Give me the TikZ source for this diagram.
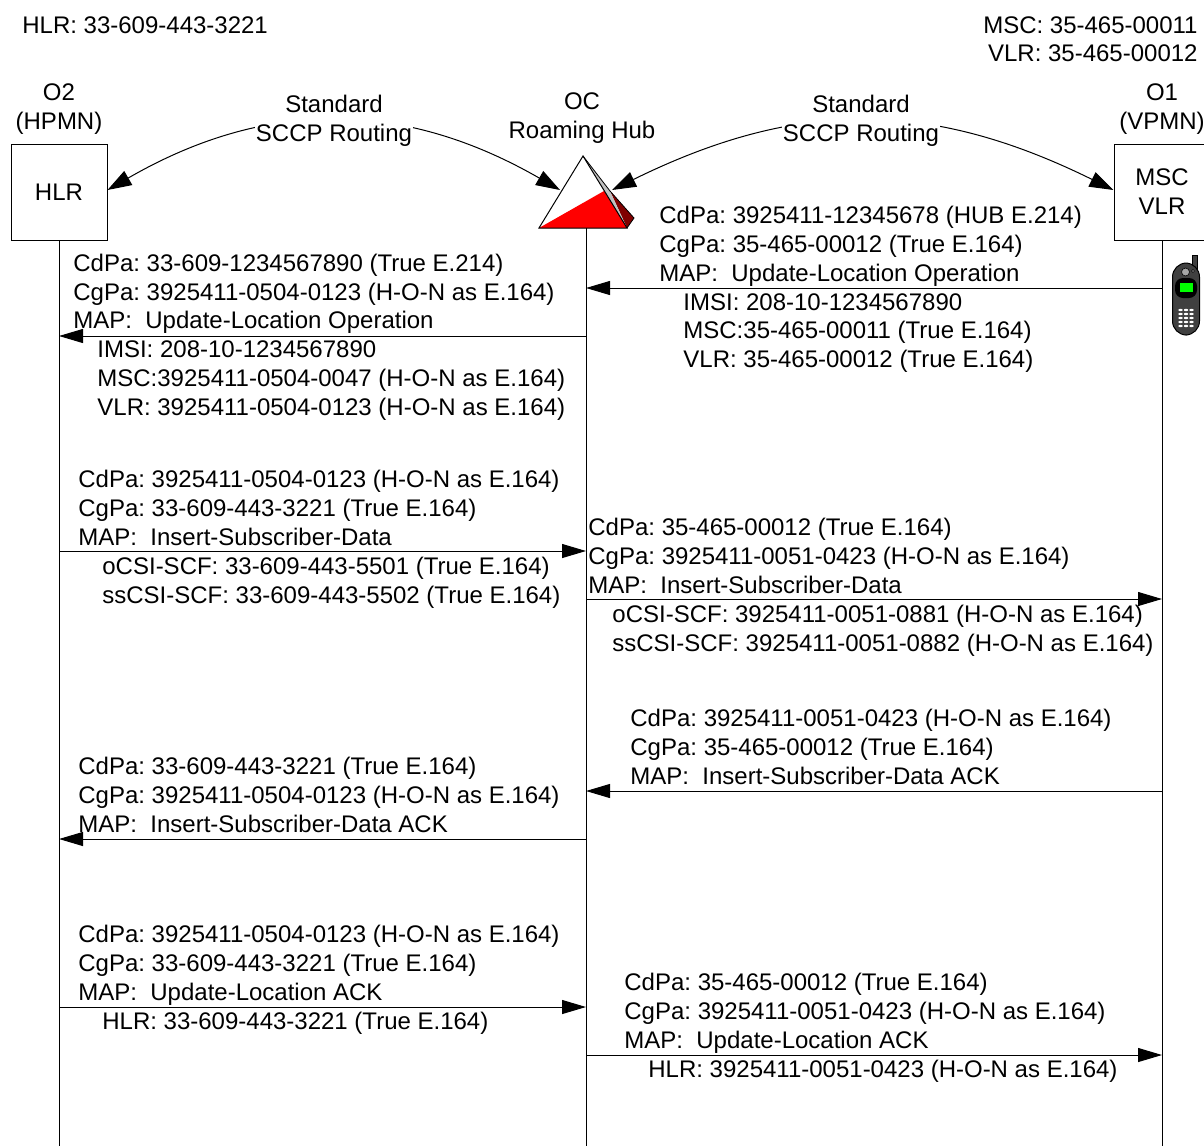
\documentclass[tikz,border=0pt]{standalone}
\usepackage{fontspec}
\setmainfont{Liberation Sans}
\usetikzlibrary{arrows.meta}

\definecolor{hubred}{HTML}{FF0000}
\definecolor{hubdark}{HTML}{800000}
\definecolor{hubgrey}{HTML}{C0C0C0}
\definecolor{phonebody}{HTML}{404040}
\definecolor{phonescreen}{HTML}{00FF00}

\frenchspacing
\begin{document}
\begin{tikzpicture}[
    x=0.5pt, y=-0.5pt,
    every node/.style={font=\fontsize{12}{14.4}\selectfont},
    entity/.style={draw=black, line width=0.5pt, minimum size=48pt, inner sep=0pt,
        align=center, fill=white},
    heading/.style={align=center, inner sep=0pt},
    routing/.style={align=center, inner sep=0.5pt, fill=white},
    msgtext/.style={anchor=north west, align=left, inner sep=0pt},
    lifeline/.style={draw=black, line width=0.5pt},
    msgline/.style={draw=black, line width=0.5pt, -{Triangle[length=12pt,width=7pt]}},
    arc/.style={draw=black, line width=0.5pt,
        {Triangle[length=12pt,width=8pt]}-{Triangle[length=12pt,width=8pt]}},
]
\useasboundingbox (0,0) rectangle (1204,1146);

% === Column positions ===
\def\colA{59}      % HPMN
\def\colB{586}     % Hub
\def\colC{1162}    % VPMN
\def\ind{\hspace*{12pt}}

% === Elements ===
\node[entity] (hlr) at (\colA,192) {HLR};
\node[entity] (msc) at (\colC,192) {MSC\\VLR};
\coordinate (hubApex) at (583,156);
\coordinate (hub) at (\colB,228);
\coordinate (hubWest) at (560,190);
\coordinate (hubEast) at (612,190);

% === Lifelines ===
\coordinate (bottom) at (0,1146);
\draw[lifeline] (hlr.south) -- (hlr.south |- bottom);
\draw[lifeline] (hub) -- (hub |- bottom);
\draw[lifeline] (msc.south) -- (msc.south |- bottom);

% === Hub triangle ===
\fill[hubdark] (610,191) -- (634,218) -- (627,228) -- cycle;
\fill[hubgrey] (hubApex) -- (610,191) -- (627,228) -- cycle;
\fill[hubred] (539,228) -- (604,191) -- (627,228) -- cycle;
\draw[line width=0.5pt] (539,228) -- (hubApex) -- (627,228) -- cycle;
\draw[line width=0.4pt] (hubApex) -- (610,191) -- (634,218) -- (627,228);

% === Routing arcs ===
\draw[arc] (hlr.east |- hubWest) .. controls (265,99) and (402,99) .. (hubWest);
\draw[arc] (hubEast) .. controls (797,99) and (929,99) .. (msc.west |- hubEast);
\node[routing] (sccpA) at (334,120.5) {Standard\\SCCP Routing};
\node[routing] (sccpB) at (861,120.5) {Standard\\SCCP Routing};

% === Headers ===
\node[heading] (ohome) at (\colA,109.5) {O2\\(HPMN)};
\node[heading] (ohub) at (582,118) {OC\\Roaming Hub};
\node[heading] (ovisit) at (\colC,109.5) {O1\\(VPMN)};
\node[msgtext] (hlrgt) at (22,16) {HLR: 33-609-443-3221};
\node[msgtext, anchor=north east, align=right] (mscgt) at (1198,16)
    {MSC: 35-465-00011\\VLR: 35-465-00012};

% === Message rows ===
\coordinate (rowA) at (0,288);
\coordinate (rowB) at (0,336);
\coordinate (rowC) at (0,551);
\coordinate (rowD) at (0,599);
\coordinate (rowE) at (0,791);
\coordinate (rowF) at (0,839);
\coordinate (rowG) at (0,1007);
\coordinate (rowH) at (0,1055);

\draw[msgline] (msc.south |- rowA) -- (hub |- rowA);
\draw[msgline] (hub |- rowB) -- (hlr.south |- rowB);
\draw[msgline] (hlr.south |- rowC) -- (hub |- rowC);
\draw[msgline] (hub |- rowD) -- (msc.south |- rowD);
\draw[msgline] (msc.south |- rowE) -- (hub |- rowE);
\draw[msgline] (hub |- rowF) -- (hlr.south |- rowF);
\draw[msgline] (hlr.south |- rowG) -- (hub |- rowG);
\draw[msgline] (hub |- rowH) -- (msc.south |- rowH);

% === Message texts ===
\node[msgtext] (textA) at (659,206)
    {CdPa: 3925411-12345678 (HUB E.214)\\
     CgPa: 35-465-00012 (True E.164)\\
     MAP:\ \ Update-Location Operation\\
     \ind IMSI: 208-10-1234567890\\
     \ind MSC:35-465-00011 (True E.164)\\
     \ind VLR: 35-465-00012 (True E.164)};
\node[msgtext] (textB) at (73,253.5)
    {CdPa: 33-609-1234567890 (True E.214)\\
     CgPa: 3925411-0504-0123 (H-O-N as E.164)\\
     MAP:\ \ Update-Location Operation\\
     \ind IMSI: 208-10-1234567890\\
     \ind MSC:3925411-0504-0047 (H-O-N as E.164)\\
     \ind VLR: 3925411-0504-0123 (H-O-N as E.164)};
\node[msgtext] (textC) at (78,470)
    {CdPa: 3925411-0504-0123 (H-O-N as E.164)\\
     CgPa: 33-609-443-3221 (True E.164)\\
     MAP:\ \ Insert-Subscriber-Data\\
     \ind oCSI-SCF: 33-609-443-5501 (True E.164)\\
     \ind ssCSI-SCF: 33-609-443-5502 (True E.164)};
\node[msgtext] (textD) at (588,518)
    {CdPa: 35-465-00012 (True E.164)\\
     CgPa: 3925411-0051-0423 (H-O-N as E.164)\\
     MAP:\ \ Insert-Subscriber-Data\\
     \ind oCSI-SCF: 3925411-0051-0881 (H-O-N as E.164)\\
     \ind ssCSI-SCF: 3925411-0051-0882 (H-O-N as E.164)};
\node[msgtext] (textE) at (630,709)
    {CdPa: 3925411-0051-0423 (H-O-N as E.164)\\
     CgPa: 35-465-00012 (True E.164)\\
     MAP:\ \ Insert-Subscriber-Data ACK};
\node[msgtext] (textF) at (78,757)
    {CdPa: 33-609-443-3221 (True E.164)\\
     CgPa: 3925411-0504-0123 (H-O-N as E.164)\\
     MAP:\ \ Insert-Subscriber-Data ACK};
\node[msgtext] (textG) at (78,925)
    {CdPa: 3925411-0504-0123 (H-O-N as E.164)\\
     CgPa: 33-609-443-3221 (True E.164)\\
     MAP:\ \ Update-Location ACK\\
     \ind HLR: 33-609-443-3221 (True E.164)};
\node[msgtext] (textH) at (624,973)
    {CdPa: 35-465-00012 (True E.164)\\
     CgPa: 3925411-0051-0423 (H-O-N as E.164)\\
     MAP:\ \ Update-Location ACK\\
     \ind HLR: 3925411-0051-0423 (H-O-N as E.164)};

% === Phone ===
\fill[phonebody, draw=black, line width=0.3pt] (1192,255) rectangle (1197,272);
\fill[phonebody, draw=black, line width=0.5pt, rounded corners=7pt]
    (1172.5,335) -- (1172.5,263) -- (1199.5,263) -- (1199.5,335) -- cycle;
\fill[black, rounded corners=4pt] (1175,278) rectangle (1197,298);
\fill[gray!70, draw=black, line width=0.3pt] (1185.5,272) circle (4);
\fill[gray!70, draw=black, line width=0.3pt] (1193,271) circle (1.5);
\fill[phonescreen, draw=black, line width=0.2pt] (1179,282) rectangle (1193,292);
\foreach \kx in {1180.5,1186,1191.5}
    \foreach \ky in {310,314,318,322,326}
        \fill[white] (\kx,\ky) ellipse (2.2 and 1.2);

\end{tikzpicture}
\end{document}
